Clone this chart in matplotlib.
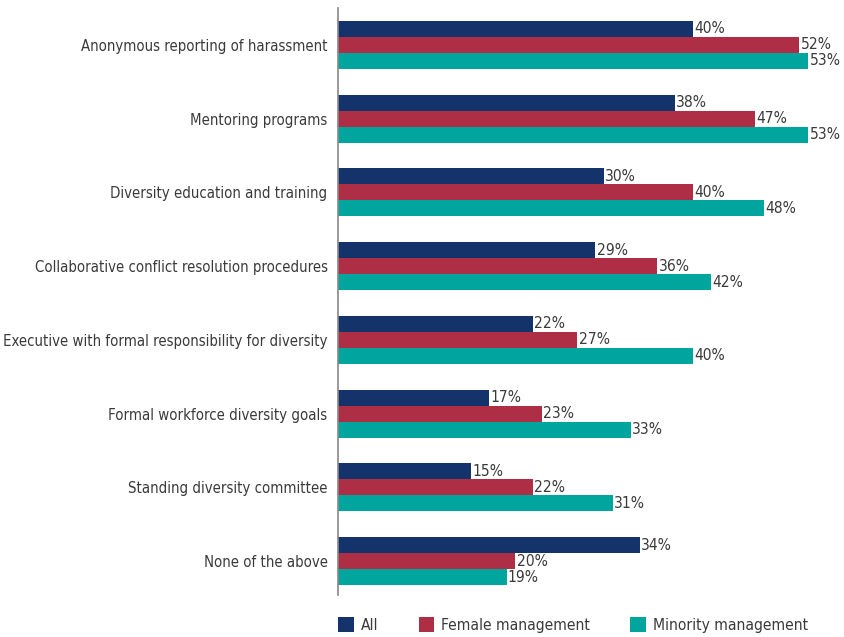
import matplotlib
matplotlib.use("Agg")
import matplotlib.pyplot as plt
from matplotlib.patches import Patch

categories = [
    "Anonymous reporting of harassment",
    "Mentoring programs",
    "Diversity education and training",
    "Collaborative conflict resolution procedures",
    "Executive with formal responsibility for diversity",
    "Formal workforce diversity goals",
    "Standing diversity committee",
    "None of the above",
]
series_names = ["All", "Female management", "Minority management"]
all_vals = [40, 38, 30, 29, 22, 17, 15, 34]
female_vals = [52, 47, 40, 36, 27, 23, 22, 20]
minority_vals = [53, 53, 48, 42, 40, 33, 31, 19]
colors = ["#15336b", "#ae2e46", "#00a59d"]

plt.rcParams['font.family'] = ["DejaVu Sans"]
plt.rcParams['font.stretch'] = "condensed"
text_color = "#3a3a3a"
fs = 10.7

fig = plt.figure(figsize=(8.44, 6.37), dpi=100)
ax = fig.add_axes([338/844, 1 - 595/637, 1 - 338/844, (595 - 8)/637])

h = 0.217
data = [all_vals, female_vals, minority_vals]
for i, (vals, c) in enumerate(zip(data, colors)):
    ys = [k + (i - 1) * h for k in range(len(categories))]
    ax.barh(ys, vals, height=h, color=c, zorder=2)
    for y, v in zip(ys, vals):
        ax.text(v + 0.15, y, f"{v}%", va="center", ha="left", fontsize=fs + 0.5,
                color=text_color, clip_on=False)

ax.set_xlim(0, (844 - 338) / 8.87)
ax.set_ylim(7.46, -0.5)
ax.set_yticks(range(len(categories)))
ax.set_yticklabels(categories, fontsize=fs, color=text_color)
ax.tick_params(axis='y', length=0, pad=7.5)
ax.set_xticks([])
for s in ["top", "right", "bottom"]:
    ax.spines[s].set_visible(False)
ax.spines["left"].set_color("#888888")
ax.spines["left"].set_linewidth(1.2)

handles = [Patch(facecolor=c, label=n) for c, n in zip(colors, series_names)]
fig.legend(handles=handles, loc="center left", bbox_to_anchor=(324/844, 1 - 625/637),
           ncol=3, frameon=False, fontsize=fs + 0.5, handlelength=1.0, handleheight=1.05,
           columnspacing=2.6, handletextpad=0.45, labelcolor=text_color)

fig.savefig("out.png", dpi=100)
